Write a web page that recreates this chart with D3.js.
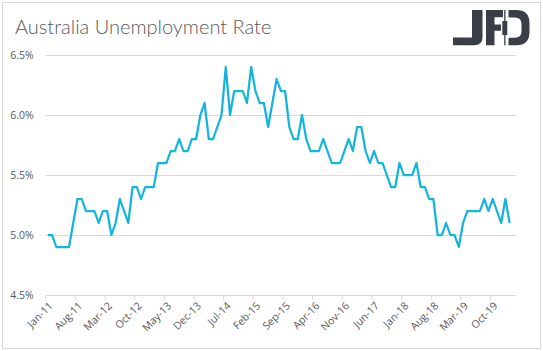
<!DOCTYPE html>
<html>
<head>
<meta charset="utf-8">
<script src="https://cdn.jsdelivr.net/npm/d3@7"></script>
<style>
  html, body { margin: 0; padding: 0; background: #fff; }
  svg { display: block; }
  .axis text { font-family: "Open Sans", sans-serif; font-size: 10.5px; fill: #595959; }
</style>
</head>
<body>
<div id="chart"></div>
<script>
// monthly categories, Jan-11 .. Mar-20
var monthNames = ["Jan", "Feb", "Mar", "Apr", "May", "Jun", "Jul", "Aug", "Sep", "Oct", "Nov", "Dec"];
var startYear = 2011;
var monthCount = 111;

// unemployment rate, %
var rates = [
    5.0, 5.0, 4.9, 4.9, 4.9, 4.9, 5.1, 5.3, 5.3, 5.2, 5.2, 5.2,
    5.1, 5.2, 5.2, 5.0, 5.1, 5.3, 5.2, 5.1, 5.4, 5.4, 5.3, 5.4,
    5.4, 5.4, 5.6, 5.6, 5.6, 5.7, 5.7, 5.8, 5.7, 5.7, 5.8, 5.8,
    6.0, 6.1, 5.8, 5.8, 5.9, 6.0, 6.4, 6.0, 6.2, 6.2, 6.2, 6.1,
    6.4, 6.2, 6.1, 6.1, 5.9, 6.1, 6.3, 6.2, 6.2, 5.9, 5.8, 5.8,
    6.0, 5.8, 5.7, 5.7, 5.7, 5.8, 5.7, 5.6, 5.6, 5.6, 5.7, 5.8,
    5.7, 5.9, 5.9, 5.7, 5.6, 5.7, 5.6, 5.6, 5.5, 5.4, 5.4, 5.6,
    5.5, 5.5, 5.5, 5.6, 5.4, 5.4, 5.3, 5.3, 5.0, 5.0, 5.1, 5.0,
    5.0, 4.9, 5.1, 5.2, 5.2, 5.2, 5.2, 5.3, 5.2, 5.3, 5.2, 5.1,
    5.3, 5.1
];

var yTicks = [4.5, 5.0, 5.5, 6.0, 6.5];
var labelEvery = 7;

var categories = [];
for (var m = 0; m < monthCount; m++) {
    var yy = startYear + Math.floor(m / 12);
    categories.push(monthNames[m % 12] + "-" + String(yy).slice(2));
}
var tickCategories = categories.filter(function(c, i) { return i % labelEvery === 0; });

var W = 543, H = 351;
var plot = { left: 45.7, right: 516, top: 55, bottom: 295 };

var svg = d3.select("#chart").append("svg")
    .attr("width", W)
    .attr("height", H);

// outer frame
svg.append("rect")
    .attr("x", 2.5).attr("y", 2.5)
    .attr("width", 538).attr("height", 346)
    .attr("fill", "#fff")
    .attr("stroke", "#d9d9d9")
    .attr("stroke-width", 1);

// title
svg.append("text")
    .attr("x", 15)
    .attr("y", 34)
    .style("font-family", "Lato, sans-serif")
    .style("font-weight", 300)
    .style("font-size", "20px")
    .style("fill", "#595959")
    .text("Australia Unemployment Rate");

// JFD logo
var logo = svg.append("g").attr("fill", "#3a3f47");
logo.append("path").attr("d",
    "M472,10 H482.5 V37 Q482.5,45.3 474,45.3 H453 V37.5 H472 Z");
logo.append("path").attr("d",
    "M486,10 H503 V17.3 H494.5 V24.4 H501 V30.7 H494.5 V45.3 H486 Z");
logo.append("rect").attr("x", 504.2).attr("y", 10).attr("width", 1.3).attr("height", 35.3);
logo.append("rect").attr("x", 502.3).attr("y", 21).attr("width", 5).attr("height", 14);
logo.append("path").attr("d",
    "M508.5,10 H516 Q529.5,10 529.5,23 V32 Q529.5,45.3 516,45.3 H508.5 V37.8 H515 Q521.5,37.8 521.5,31 V24 Q521.5,17.4 515,17.4 H508.5 Z");

var x = d3.scaleBand()
    .domain(categories)
    .range([plot.left, plot.right])
    .padding(0);

var y = d3.scaleLinear()
    .domain([4.5, 6.5])
    .range([plot.bottom, plot.top]);

// y axis with gridlines
var yAxis = d3.axisLeft(y)
    .tickValues(yTicks)
    .tickSize(-(plot.right - plot.left))
    .tickPadding(12)
    .tickFormat(function(d) { return d3.format(".1f")(d) + "%"; });

var gy = svg.append("g")
    .attr("class", "axis y")
    .attr("transform", "translate(" + plot.left + ",0)")
    .call(yAxis);
gy.select(".domain").remove();
gy.selectAll(".tick line").attr("stroke", "#d9d9d9").attr("stroke-width", 1);
gy.selectAll(".tick text").attr("x", -12);

// x axis: tick marks between categories, labels centred on the category
var gx = svg.append("g")
    .attr("class", "axis x");

gx.selectAll("line.tk")
    .data(tickCategories)
    .enter()
    .append("line")
    .attr("class", "tk")
    .attr("x1", function(d) { return x(d); })
    .attr("x2", function(d) { return x(d); })
    .attr("y1", plot.bottom)
    .attr("y2", plot.bottom + 5)
    .attr("stroke", "#d9d9d9");

gx.selectAll("text")
    .data(tickCategories)
    .enter()
    .append("text")
    .attr("text-anchor", "end")
    .attr("transform", function(d) {
        return "translate(" + (x(d) + x.bandwidth() / 2 + 3) + "," + (plot.bottom + 9) + ") rotate(-45)";
    })
    .attr("dy", "0.35em")
    .text(function(d) { return d; });

// the series
var line = d3.line()
    .x(function(d, i) { return x(categories[i]) + x.bandwidth() / 2; })
    .y(function(d) { return y(d); });

svg.append("path")
    .datum(rates)
    .attr("fill", "none")
    .attr("stroke", "#14b4dc")
    .attr("stroke-width", 2.25)
    .attr("stroke-linejoin", "round")
    .attr("d", line);
</script>
</body>
</html>
